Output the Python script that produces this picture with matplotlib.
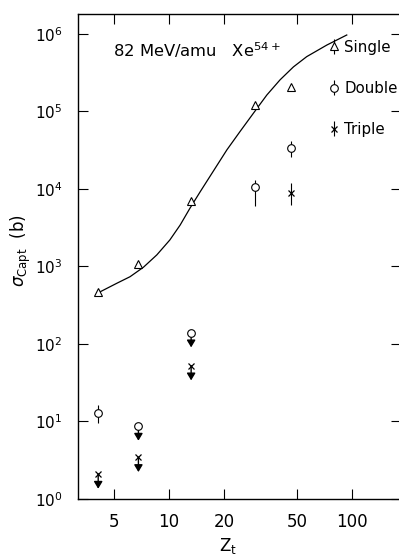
import matplotlib
matplotlib.use("Agg")
import matplotlib.pyplot as plt
from matplotlib.ticker import FixedLocator, FixedFormatter, LogLocator, NullLocator

# measured capture cross sections (barns) vs target Z
z_single = [4.1, 6.8, 13.2, 29.5, 46.5]
sig_single = [465, 1080, 6900, 1.2e5, 2.05e5]

z_double = [4.1, 29.5, 46.5]
sig_double = [13.0, 1.07e4, 3.35e4]
double_lo = [9.7, 6.0e3, 2.6e4]
double_hi = [16.3, 1.31e4, 4.1e4]

z_triple = [46.5]
sig_triple = [8.9e3]
triple_lo = [6.2e3]
triple_hi = [1.18e4]

# points that are upper limits only
z_double_lim = [6.8, 13.2]
sig_double_lim = [8.75, 140]
z_triple_lim = [4.1, 6.8, 13.2]
sig_triple_lim = [2.1, 3.45, 52.5]

# calculated single-capture curve
z_calc = [4.11, 5.18, 6.12, 7.24, 8.57, 10.1, 11.5, 13.0, 14.8, 20.7, 24.4,
          28.9, 34.2, 40.4, 47.8, 56.5, 72.8, 93.5]
sig_calc = [459, 607, 738, 977, 1410, 2200, 3430, 5640, 9230, 3.2e4, 5.5e4,
            9.5e4, 1.63e5, 2.56e5, 3.76e5, 5.1e5, 7.2e5, 9.7e5]

x_ticks = [5, 10, 20, 50, 100]
x_ticklabels = ["5", "10", "20", "50", "100"]

plt.rcParams["font.family"] = "DejaVu Sans"
plt.rcParams["mathtext.fontset"] = "dejavusans"

fig = plt.figure(figsize=(3.99, 5.56), dpi=100)
ax = fig.add_axes([78 / 399, 57 / 556, 323 / 399, 485 / 556])
ax.set_xscale("log")
ax.set_yscale("log")
ax.set_xlim(3.18, 185)
ax.set_ylim(1, 1.81e6)

ax.plot(z_calc, sig_calc, color="black", lw=0.9, zorder=2)


def asym(sig, lo, hi):
    return [[s - l for s, l in zip(sig, lo)], [h - s for s, h in zip(sig, hi)]]


single = ax.errorbar(z_single, sig_single, yerr=[0] * len(z_single), fmt="^",
                     ms=6, mfc="white", mec="black", mew=0.8, ecolor="black",
                     elinewidth=0.8, capsize=0, zorder=3)
double = ax.errorbar(z_double, sig_double, yerr=asym(sig_double, double_lo, double_hi),
                     fmt="o", ms=5.5, mfc="white", mec="black", mew=0.8,
                     ecolor="black", elinewidth=0.8, capsize=0, zorder=3)
triple = ax.errorbar(z_triple, sig_triple, yerr=asym(sig_triple, triple_lo, triple_hi),
                     fmt="x", ms=5, mec="black", mew=0.9, ecolor="black",
                     elinewidth=0.8, capsize=0, zorder=3)

# upper limits: marker with a short downward arrow
arrow_drop = 10 ** -0.19
for zs, ss, mk in [(z_double_lim, sig_double_lim, "o"), (z_triple_lim, sig_triple_lim, "x")]:
    for z, s in zip(zs, ss):
        ax.annotate("", xy=(z, s * arrow_drop), xytext=(z, s),
                    arrowprops=dict(arrowstyle="-|>,head_length=0.5,head_width=0.3",
                                    color="black", lw=1.0, shrinkA=0, shrinkB=0,
                                    mutation_scale=8.5), zorder=2)
    if mk == "o":
        ax.plot(zs, ss, "o", ms=5.5, mfc="white", mec="black", mew=0.8, zorder=3)
    else:
        ax.plot(zs, ss, "x", ms=5, mec="black", mew=0.9, zorder=3)

ax.xaxis.set_major_locator(FixedLocator(x_ticks))
ax.xaxis.set_major_formatter(FixedFormatter(x_ticklabels))
ax.xaxis.set_minor_locator(NullLocator())
ax.yaxis.set_major_locator(LogLocator(base=10, numticks=10))
ax.yaxis.set_minor_locator(NullLocator())
ax.tick_params(which="major", direction="in", length=7, width=0.8,
               top=True, right=True)
ax.tick_params(axis="x", pad=10, labelsize=12)
ax.tick_params(axis="y", pad=11, labelsize=11)
for sp in ax.spines.values():
    sp.set_linewidth(1.0)

ax.set_xlabel(r"Z$_{\rm t}$", fontsize=12)
ax.xaxis.set_label_coords(0.464, -0.077)
ax.set_ylabel(r"$\sigma_{\rm Capt}$  (b)", fontsize=12)
ax.yaxis.set_label_coords(-0.14, 0.513)

ax.text(0.108, 0.911, r"82 MeV/amu   Xe$^{54+}$", transform=ax.transAxes,
        fontsize=11.8, ha="left", va="baseline")

ax.legend([single, double, triple], ["Single", "Double", "Triple"],
          loc="upper left", bbox_to_anchor=(0.775, 0.947), frameon=False,
          fontsize=10.8, handlelength=0.7, handletextpad=0.35,
          labelspacing=1.75, borderpad=0, borderaxespad=0)

fig.savefig("out.png", dpi=100)
